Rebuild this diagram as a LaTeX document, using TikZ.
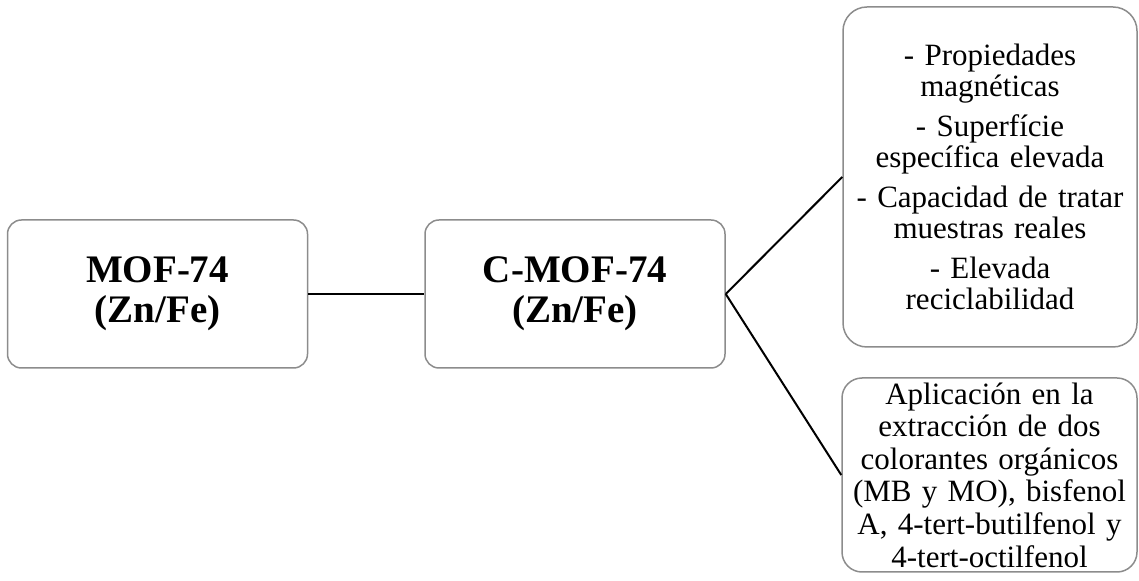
\documentclass[tikz,border=0pt]{standalone}
\usepackage{fontspec}
\setmainfont{Liberation Serif}
\tikzset{
  mofnode/.style = {rectangle, draw=black!45, line width=0.75pt, align=center, inner xsep=0.5pt, inner ysep=0.5pt, text centered},
  mof_b/.style = {mofnode, rounded corners=7pt, minimum width=150pt, minimum height=74pt, font=\fontsize{19.5}{20}\selectfont\bfseries},
  mof_t/.style = {mofnode, text width=146pt, font=\fontsize{15.5}{15.5}\selectfont},
  link/.style = {draw=black, line width=1pt}
}
\begin{document}
\begin{tikzpicture}[x=0.5pt, y=-0.5pt]
    \useasboundingbox (0,0) rectangle (1139,581);
    \node[mof_b] (mof) at (157.5,294) {MOF-74\\(Zn/Fe)};
    \node[mof_b] (cmof) at (575,294) {C-MOF-74\\(Zn/Fe)};
    \node[mof_t, rounded corners=12pt, minimum width=147pt, minimum height=170pt] (props) at (990,177)
        {- Propiedades\\magnéticas\\[4.5pt]
         - Superfície\\específica elevada\\[4.5pt]
         - Capacidad de tratar\\muestras reales\\[4.5pt]
         - Elevada\\reciclabilidad};
    \node[mof_t, rounded corners=10pt, minimum width=147.5pt, minimum height=97pt,
          font=\fontsize{15.5}{16.3}\selectfont] (app) at (989.5,475)
        {Aplicación en la\\extracción de dos\\colorantes orgánicos\\(MB y MO), bisfenol\\A, 4-tert-butilfenol y\\4-tert-octilfenol};
    \draw[link] (mof.east) -- (cmof.west);
    \draw[link] (cmof.east) -- (props.west);
    \draw[link] (cmof.east) -- (app.west);
\end{tikzpicture}
\end{document}
